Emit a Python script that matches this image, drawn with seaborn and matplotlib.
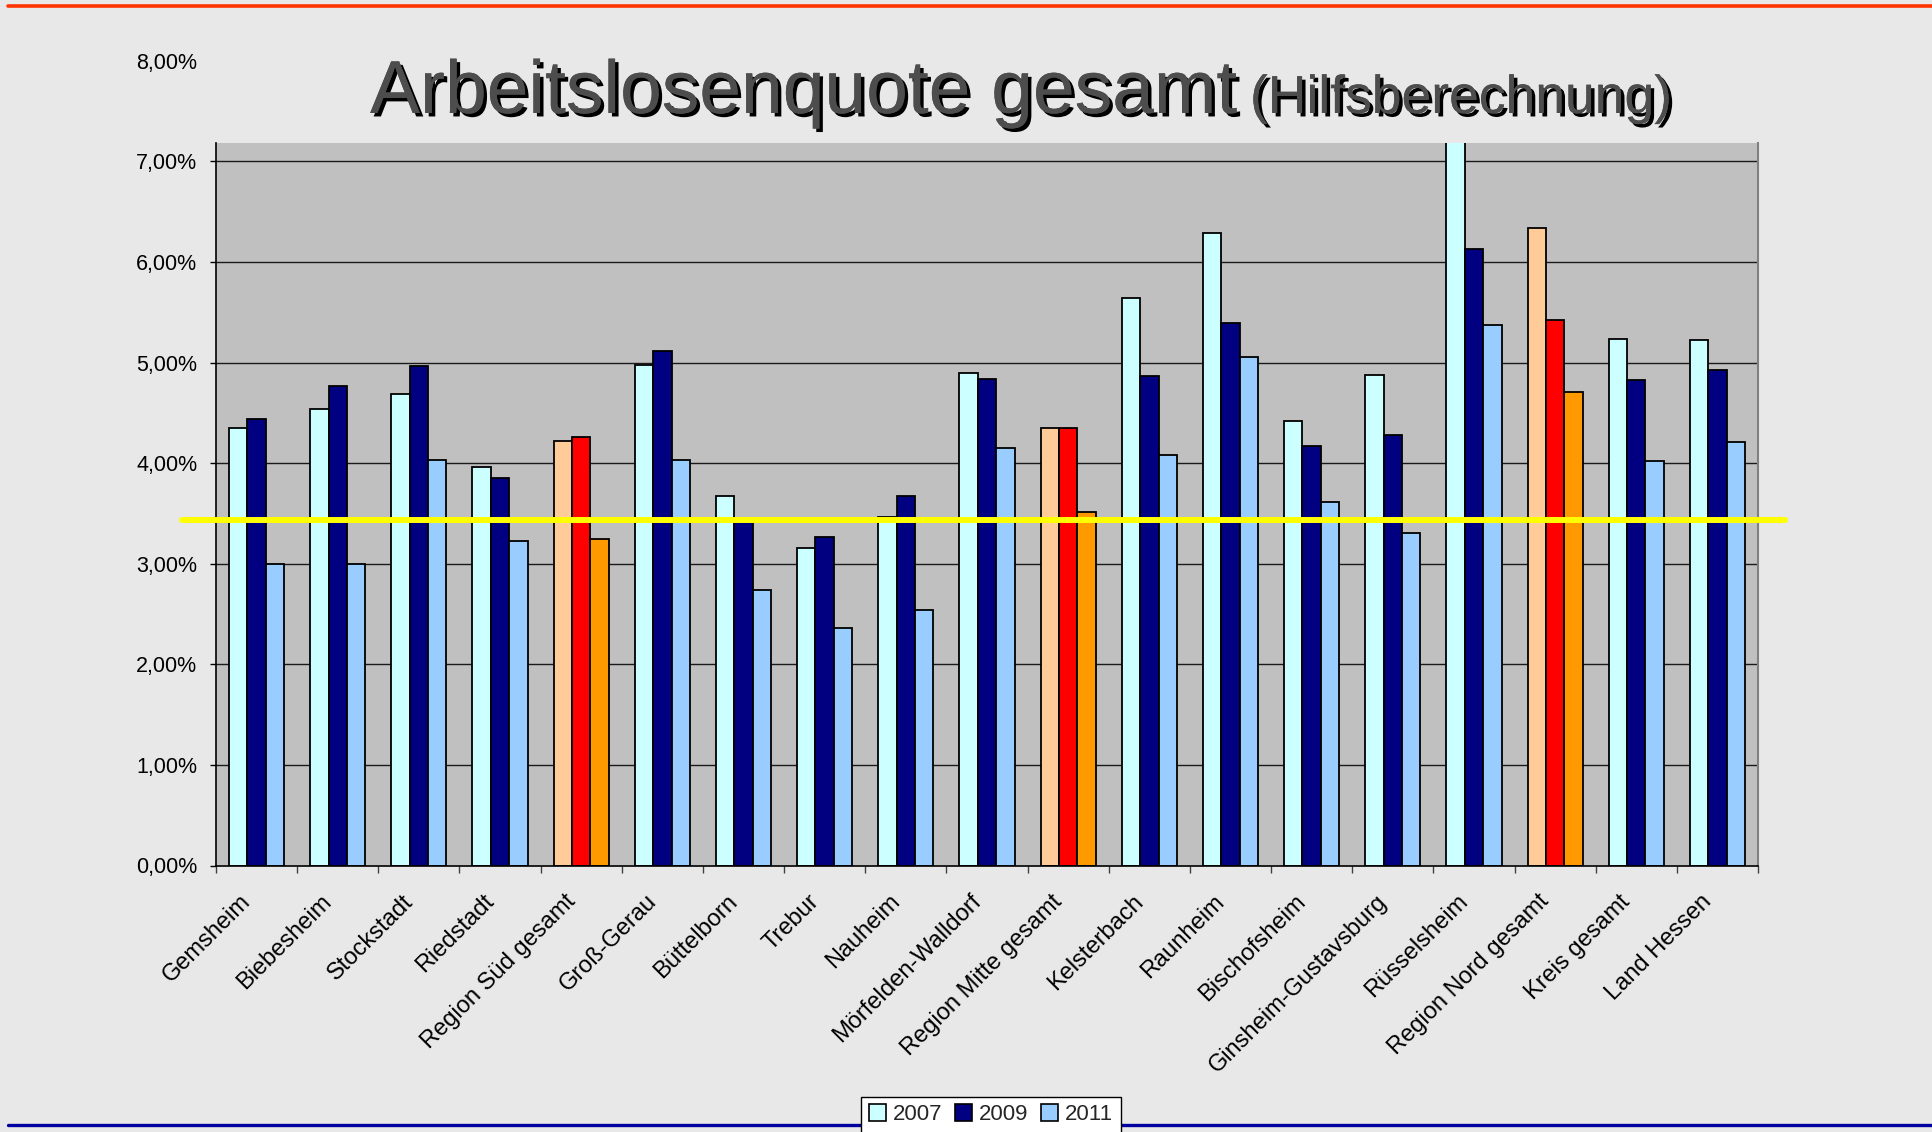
import numpy as np
import pandas as pd
import matplotlib
matplotlib.use("Agg")
import matplotlib.pyplot as plt
import matplotlib.patheffects as pe
from matplotlib.patches import Patch
from matplotlib.lines import Line2D
from matplotlib.transforms import ScaledTranslation
from matplotlib.ticker import FuncFormatter, FixedLocator
import seaborn as sns

# ---------------- data ----------------
categories = ["Gemsheim", "Biebesheim", "Stockstadt", "Riedstadt", "Region Süd gesamt",
              "Groß-Gerau", "Büttelborn", "Trebur", "Nauheim", "Mörfelden-Walldorf",
              "Region Mitte gesamt", "Kelsterbach", "Raunheim", "Bischofsheim",
              "Ginsheim-Gustavsburg", "Rüsselsheim", "Region Nord gesamt",
              "Kreis gesamt", "Land Hessen"]
years = ["2007", "2009", "2011"]
q2007 = [4.35, 4.54, 4.69, 3.96, 4.22, 4.98, 3.67, 3.16, 3.46, 4.90, 4.35,
         5.64, 6.29, 4.42, 4.88, 7.60, 6.34, 5.23, 5.22]
q2009 = [4.44, 4.77, 4.97, 3.85, 4.26, 5.11, 3.41, 3.27, 3.67, 4.84, 4.35,
         4.87, 5.39, 4.17, 4.28, 6.13, 5.42, 4.83, 4.93]
q2011 = [3.00, 3.00, 4.03, 3.23, 3.25, 4.03, 2.74, 2.36, 2.54, 4.15, 3.51,
         4.08, 5.05, 3.61, 3.31, 5.37, 4.71, 4.02, 4.21]
region_totals = ["Region Süd gesamt", "Region Mitte gesamt", "Region Nord gesamt"]
reference_line = 3.43  # yellow line, %
title_main = "Arbeitslosenquote gesamt"
title_sub = "(Hilfsberechnung)"

# ---------------- styles ----------------
bg = "#e8e8e8"
plot_bg = "#c0c0c0"
year_colors = ["#ccffff", "#000080", "#99ccff"]
region_colors = ["#ffcc99", "#ff0000", "#ff9900"]

sns.set_theme(style="white")
plt.rcParams["font.family"] = ["Liberation Sans", "DejaVu Sans"]

W, H = 1932, 1132
fig = plt.figure(figsize=(W / 100, H / 100), dpi=100, facecolor=bg)

ax_left, ax_right = 216, 1758
ax_bottom_px, ax_top_px = 865.5, 60.7
ax = fig.add_axes([ax_left / W, 1 - ax_bottom_px / H,
                   (ax_right - ax_left) / W, (ax_bottom_px - ax_top_px) / H])
ax.set_facecolor(bg)

df = pd.DataFrame({
    "Region": categories * 3,
    "Jahr": [years[0]] * len(categories) + [years[1]] * len(categories) + [years[2]] * len(categories),
    "Quote": [v / 100 for v in q2007 + q2009 + q2011],
})

sns.barplot(data=df, x="Region", y="Quote", hue="Jahr", order=categories,
            hue_order=years, palette=year_colors, width=0.68, saturation=1,
            edgecolor="black", linewidth=1.3, legend=False, ax=ax, errorbar=None)

reg_idx = [categories.index(r) for r in region_totals]
for cont, rc in zip(ax.containers, region_colors):
    for i, bar in enumerate(cont):
        bar.set_zorder(2)
        if i in reg_idx:
            bar.set_facecolor(rc)

plot_top = 0.0718
ax.set_ylim(0, 0.08)
ax.set_xlim(-0.5, len(categories) - 0.5)
ax.axhspan(0, plot_top, color=plot_bg, zorder=0, lw=0)
for v in np.arange(0.01, 0.071, 0.01):
    ax.axhline(v, color="#1a1a1a", lw=1.0, zorder=1)
# cover above plot area (clips the tall bar)
ax.axhspan(plot_top, 0.08, color=bg, zorder=4, lw=0)

# yellow reference line, extending beyond the plot area
ax.add_line(Line2D([-0.022, 1.0175], [reference_line / 100] * 2, color="#ffff00",
                   lw=4.3, transform=ax.get_yaxis_transform(), clip_on=False, zorder=6))

# spines
ax.spines["top"].set_visible(False)
ax.spines["left"].set_bounds(0, plot_top)
ax.spines["left"].set_color("black")
ax.spines["left"].set_linewidth(1.2)
ax.spines["right"].set_bounds(0, plot_top)
ax.spines["right"].set_color("#808080")
ax.spines["right"].set_linewidth(1.5)
ax.spines["bottom"].set_color("black")
ax.spines["bottom"].set_linewidth(1.2)
for s in ax.spines.values():
    s.set_zorder(5)

# y ticks
ax.yaxis.set_major_locator(FixedLocator(np.arange(0, 0.0801, 0.01)))
ax.yaxis.set_major_formatter(FuncFormatter(lambda v, p: f"{v*100:.2f}".replace(".", ",") + "%"))
ax.tick_params(axis="y", direction="out", length=4.5, width=1, color="black",
               pad=9, labelsize=15.5, left=True, labelcolor="black")
ax.yaxis.get_major_ticks()[-1].tick1line.set_visible(False)

# x ticks: labels at centres, tick marks at boundaries
ax.set_xticks(range(len(categories)))
ax.set_xticklabels(categories, rotation=45, ha="right", va="top",
                   rotation_mode="anchor", fontsize=17)
ax.tick_params(axis="x", which="major", length=0, pad=18, labelcolor="black")
ax.set_xticks(np.arange(-0.5, len(categories)), minor=True)
ax.tick_params(axis="x", which="minor", direction="out", length=5, width=1,
               color="#404040", bottom=True)
offset = ScaledTranslation(-17 / 100, 0, fig.dpi_scale_trans)
for lab in ax.get_xticklabels():
    lab.set_transform(lab.get_transform() + offset)
ax.set_xlabel("")
ax.set_ylabel("")

# title with shadow
shadow = [pe.withSimplePatchShadow(offset=(2.5, -2.5), shadow_rgbFace="black", alpha=1.0), pe.Normal()]
fig.text(370 / W, 1 - 113 / H, title_main, fontsize=54, color="#4d4d4d",
         ha="left", va="baseline", path_effects=shadow)
fig.text(1250 / W, 1 - 113 / H, title_sub, fontsize=38.5, color="#4d4d4d",
         ha="left", va="baseline", path_effects=shadow)

# frame lines
fig.add_artist(Line2D([8 / W, 1], [1 - 5.5 / H] * 2, color="#ff3300", lw=2.6,
                      transform=fig.transFigure))
fig.add_artist(Line2D([8 / W, 1], [1 - 1124.5 / H] * 2, color="#0000a0", lw=2.4,
                      transform=fig.transFigure))

# legend
handles = [Patch(facecolor=c, edgecolor="black", lw=1.2) for c in year_colors]
leg = fig.legend(handles, years, loc="upper center",
                 bbox_to_anchor=(991 / W, 1 - 1096.5 / H), ncol=3, fontsize=16,
                 frameon=True, fancybox=False, edgecolor="black", framealpha=1,
                 facecolor="white", handlelength=0.75, handleheight=0.75,
                 handletextpad=0.3, columnspacing=0.6, borderpad=0.35,
                 borderaxespad=0)
leg.get_frame().set_linewidth(1.0)
leg.set_zorder(10)

fig.savefig("out.png", dpi=100, facecolor=bg)
